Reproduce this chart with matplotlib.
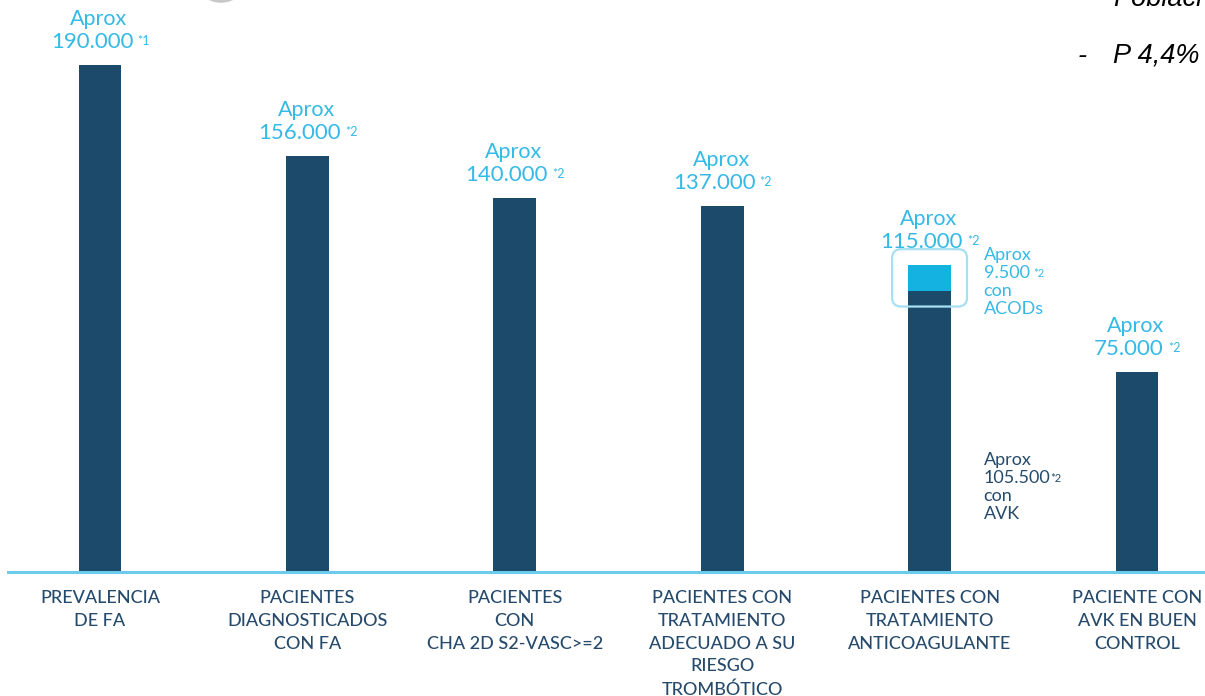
import matplotlib
matplotlib.use("Agg")
import matplotlib.pyplot as plt
from matplotlib.patches import FancyBboxPatch, Ellipse
from matplotlib.transforms import IdentityTransform

# datos del embudo de FA
categorias = [
    "PREVALENCIA\nDE FA",
    "PACIENTES\nDIAGNOSTICADOS\nCON FA",
    "PACIENTES\nCON\nCHA 2D S2-VASC>=2",
    "PACIENTES CON\nTRATAMIENTO\nADECUADO A SU\nRIESGO\nTROMBÓTICO",
    "PACIENTES CON\nTRATAMIENTO\nANTICOAGULANTE",
    "PACIENTE CON\nAVK EN BUEN\nCONTROL",
]
valores = [190000, 156000, 140000, 137000, 115000, 75000]
etiquetas = ["190.000", "156.000", "140.000", "137.000", "115.000", "75.000"]
notas = ["*1", "*2", "*2", "*2", "*2", "*2"]

# desglose de la barra de anticoagulantes
avk = 105500
acods = 9500
idx_anticoag = 4
texto_acods = ["Aprox", "9.500", "con", "ACODs"]
texto_avk = ["Aprox", "105.500", "con", "AVK"]

AZUL = "#1c4a6b"
CIAN = "#13b2e0"
CIAN_TXT = "#35b9e6"
GRIS_TXT = "#264a6b"

plt.rcParams["font.family"] = ["Lato", "DejaVu Sans"]

PX = 0.72  # puntos por pixel a 100 dpi

fig = plt.figure(figsize=(12.05, 6.96), dpi=100)
ax = fig.add_axes([8 / 1205, 124 / 696, 1197 / 1205, 572 / 696])

ancho = 0.207
x = list(range(len(valores)))
for i, v in enumerate(valores):
    if i == idx_anticoag:
        ax.bar(i, avk, width=ancho, color=AZUL, zorder=2)
        ax.bar(i, acods, width=ancho, bottom=avk, color=CIAN, zorder=2)
    else:
        ax.bar(i, v, width=ancho, color=AZUL, zorder=2)

ax.set_xlim(-0.4436, 5.328)
ax.set_ylim(0, 214400)
ax.axhline(0, color="#6ccbeb", lw=3 * PX, clip_on=False, zorder=3)

for s in ax.spines.values():
    s.set_visible(False)
ax.set_yticks([])
ax.set_xticks(x)
ax.set_xticklabels(categorias, fontsize=13, color=GRIS_TXT, linespacing=1.52,
                   fontweight="medium")
ax.tick_params(axis="x", length=0, pad=13)

# etiquetas de valor sobre cada barra
for i, (v, lab, nota) in enumerate(zip(valores, etiquetas, notas)):
    ax.annotate("Aprox", xy=(i, v), xytext=(-1 * PX, 40 * PX), textcoords="offset points",
                ha="center", va="baseline", fontsize=15.5, color=CIAN_TXT)
    t = ax.annotate(lab, xy=(i, v), xytext=(-8 * PX, 17 * PX), textcoords="offset points",
                    ha="center", va="baseline", fontsize=16, color=CIAN_TXT)
    ax.annotate(nota, xy=(1, 1), xycoords=t, xytext=(3, -2), textcoords="offset points",
                ha="left", va="top", fontsize=9, color=CIAN_TXT)


# texto lateral de la barra apilada (la segunda linea lleva la nota *2)
def bloque(y_ref, lineas, color, y0, sep_nota):
    for k, linea in enumerate(lineas):
        t = ax.annotate(linea, xy=(idx_anticoag, y_ref), xytext=(54 * PX, (y0 - 18 * k) * PX),
                        textcoords="offset points", ha="left", va="center",
                        fontsize=13, color=color)
        if k == 1:
            ax.annotate("*2", xy=(1, 1), xycoords=t, xytext=(sep_nota, -2),
                        textcoords="offset points", ha="left", va="top",
                        fontsize=8, color=color)


bloque(avk + acods, texto_acods, CIAN_TXT, 10, 3)
bloque(0, texto_avk, GRIS_TXT, 112, 0)

# recuadro redondeado alrededor del tramo de ACODs
(x0, y0) = ax.transData.transform((idx_anticoag - ancho / 2, avk))
(x1, y1) = ax.transData.transform((idx_anticoag + ancho / 2, avk + acods))
caja = FancyBboxPatch((x0, y0), x1 - x0, y1 - y0,
                      boxstyle="round,pad=16,rounding_size=9",
                      transform=IdentityTransform(), fill=False,
                      ec="#a8e0f3", lw=1.6, zorder=4)
fig.add_artist(caja)

# resto de la diapositiva: circulo gris arriba y texto en cursiva a la derecha
fig.add_artist(Ellipse((221, 696 + 19), 46, 40, transform=IdentityTransform(),
                       fc="white", ec="#c8c8c8", lw=2.5))
fuente_dcha = dict(family=["Liberation Sans", "DejaVu Sans"], style="italic",
                   fontsize=19.5, color="black", va="baseline")
fig.text(1113 / 1205, 1 - 6 / 696, "Poblaci", ha="left", **fuente_dcha)
fig.text(1078 / 1205, 1 - 63 / 696, "-", ha="left", **fuente_dcha)
fig.text(1113 / 1205, 1 - 63 / 696, "P 4,4%", ha="left", **fuente_dcha)

fig.savefig("out.png", dpi=100)
